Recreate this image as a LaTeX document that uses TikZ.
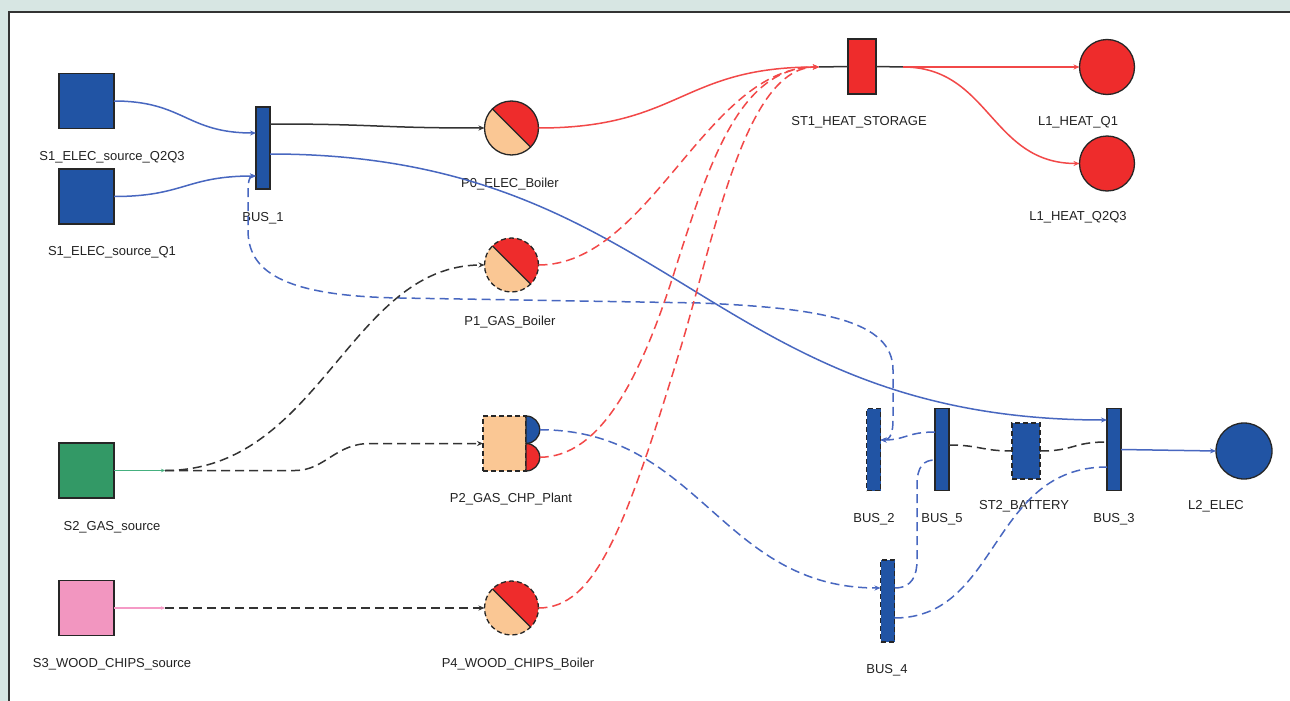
\documentclass[tikz,border=0pt]{standalone}
\usepackage{fontspec}
\setmainfont{Liberation Sans}
\usetikzlibrary{arrows.meta}
\definecolor{bg}{HTML}{D7E6E3}
\definecolor{busblue}{HTML}{2154A4}
\definecolor{lineblue}{HTML}{4867C0}
\definecolor{heatred}{HTML}{EE2C2C}
\definecolor{linered}{HTML}{F24848}
\definecolor{peach}{HTML}{FAC794}
\definecolor{gasgreen}{HTML}{339966}
\definecolor{woodpink}{HTML}{F296C0}
\definecolor{linegreen}{HTML}{45B07F}
\definecolor{linepink}{HTML}{F59AC6}
\definecolor{darkline}{HTML}{333333}
\definecolor{txt}{HTML}{222222}
\begin{document}
\begin{tikzpicture}[x=1pt,y=-1pt,
  font=\fontsize{13}{15}\selectfont,
  shp/.style={draw=black!85, line width=1.3pt, inner sep=0pt, outer sep=0pt},
  dshape/.style={dash pattern=on 5pt off 3pt},
  srcbox/.style={shp, rectangle, minimum width=55pt, minimum height=55pt},
  busbar/.style={shp, rectangle, fill=busblue, minimum width=14pt, minimum height=82pt},
  storebox/.style={shp, rectangle, minimum width=28pt, minimum height=55pt},
  boiler/.style={shp, circle, minimum size=54pt, fill=peach,
    path picture={
      \fill[heatred] (path picture bounding box.north west) -- (path picture bounding box.north east) -- (path picture bounding box.south east) -- cycle;
      \draw[solid, line width=1.3pt, black!85] (path picture bounding box.north west) -- (path picture bounding box.south east);
    }},
  loadc/.style={shp, circle, minimum size=55pt},
  lbl/.style={anchor=base, inner sep=0pt, text=txt},
  conn/.style={line width=1.5pt},
  dsh/.style={dash pattern=on 9pt off 5pt},
  bl/.style={conn, lineblue},
  rd/.style={conn, linered},
  bk/.style={conn, darkline},
  tip/.style={-{Stealth[length=6pt,width=5pt]}},
  tips/.style={{Stealth[length=6pt,width=5pt]}-{Stealth[length=6pt,width=5pt]}},
  smalltip/.style={-{Stealth[length=4pt,width=3.5pt]}}
]
% background
\useasboundingbox (0,0) rectangle (1290,701);
\fill[bg] (0,0) rectangle (1290,701);
\fill[white] (9,12) rectangle (1290,701);
\draw[darkline, line width=1.5pt] (9,701) -- (9,12) -- (1290,12);

% sources
\node[srcbox, fill=busblue] (S1a) at (86.5,101) {};
\node[srcbox, fill=busblue] (S1b) at (86.5,196.5) {};
\node[srcbox, fill=gasgreen] (S2) at (86.5,470.5) {};
\node[srcbox, fill=woodpink] (S3) at (86.5,608) {};

% buses
\node[busbar] (BUS1) at (263,148) {};
\node[busbar, dshape] (BUS2) at (873.5,449.5) {};
\node[busbar] (BUS5) at (942,449.5) {};
\node[busbar] (BUS3) at (1114,449.5) {};
\node[busbar, dshape] (BUS4) at (887.5,601) {};

% converters
\node[boiler] (P0) at (511.5,128) {};
\node[boiler, dshape] (P1) at (511.5,265) {};
\node[boiler, dshape] (P4) at (511.5,608) {};
\node[shp, rectangle, fill=peach, dshape, minimum width=43pt, minimum height=55pt] (P2) at (504.5,443.5) {};
\filldraw[fill=busblue, draw=black!85, line width=1.3pt] (P2.north east) arc[start angle=90, end angle=-90, radius=13.75pt] -- cycle;
\filldraw[fill=heatred, draw=black!85, line width=1.3pt] ([yshift=-27.5pt]P2.north east) arc[start angle=90, end angle=-90, radius=13.75pt] -- cycle;
\coordinate (p2b) at (539.75,429.75);
\coordinate (p2r) at (539.75,457.25);

% storages and loads
\node[storebox, fill=heatred] (ST1) at (862,66.5) {};
\node[storebox, fill=busblue, dshape, minimum height=56pt] (ST2) at (1026,451) {};
\node[loadc, fill=heatred] (L1a) at (1107,67) {};
\node[loadc, fill=heatred] (L1b) at (1107,163.5) {};
\node[loadc, fill=busblue, minimum size=56pt] (L2) at (1244,451) {};

\coordinate (st1in) at (819,67);
\coordinate (st1out) at (903,67);
\coordinate (s2j) at (165,470.5);
\coordinate (s3j) at (165,608);

% labels
\node[lbl] (tS1a) at (112,160) {S1\_ELEC\_source\_Q2Q3};
\node[lbl] (tS1b) at (112,255) {S1\_ELEC\_source\_Q1};
\node[lbl] (tS2) at (112,530) {S2\_GAS\_source};
\node[lbl] (tS3) at (112,667) {S3\_WOOD\_CHIPS\_source};
\node[lbl] (tB1) at (263,221) {BUS\_1};
\node[lbl] (tP0) at (510,187) {P0\_ELEC\_Boiler};
\node[lbl] (tP1) at (510,325) {P1\_GAS\_Boiler};
\node[lbl] (tP2) at (511,502) {P2\_GAS\_CHP\_Plant};
\node[lbl] (tP4) at (518,667) {P4\_WOOD\_CHIPS\_Boiler};
\node[lbl] (tST1) at (859,125) {ST1\_HEAT\_STORAGE};
\node[lbl] (tL1a) at (1078,125) {L1\_HEAT\_Q1};
\node[lbl] (tL1b) at (1078,220) {L1\_HEAT\_Q2Q3};
\node[lbl] (tB2) at (874,522) {BUS\_2};
\node[lbl] (tB5) at (942,522) {BUS\_5};
\node[lbl] (tST2) at (1024,509) {ST2\_BATTERY};
\node[lbl] (tB3) at (1114,522) {BUS\_3};
\node[lbl] (tL2) at (1216,509) {L2\_ELEC};
\node[lbl] (tB4) at (887,673) {BUS\_4};

% electricity connectors
\draw[bl, tip] (S1a.east) .. controls +(70,0) and +(-70,0) .. ([yshift=15pt]BUS1.west);
\draw[bl, tip] (S1b.east) .. controls +(70,0) and +(-70,0) .. ([yshift=-28pt]BUS1.west);
\draw[bk, tip] ([yshift=24pt]BUS1.east) .. controls +(110,0) and +(-110,0) .. (P0.west);
\draw[bl, tip] ([yshift=-6pt]BUS1.east) .. controls +(400,0) and +(-400,0) .. ([yshift=29.5pt]BUS3.west);
\draw[bl, tip] (BUS3.east) -- (L2.west);
\draw[bl, dsh, tips] ([yshift=9.5pt]BUS2.east) .. controls +(10,0) and +(0,12) .. (893,420) -- (893,370)
   .. controls (893,320) and (820,308) .. (700,303) -- (400,298)
   .. controls (280,296) and (248,270) .. (248,230) -- (248,195)
   .. controls (248,182) and (249,176) .. ([yshift=-28pt]BUS1.west);
\draw[bl, dsh, tip] ([yshift=17.5pt]BUS5.west) .. controls +(-28,0) and +(25,0) .. ([yshift=9.5pt]BUS2.east);
\draw[bl, dsh] ([yshift=13pt]BUS4.east) .. controls +(18,0) and +(0,15) .. (917,560) -- (917,485)
   .. controls (917,466) and (924,460) .. ([yshift=-10.5pt]BUS5.west);
\draw[bl, dsh] ([yshift=-17pt]BUS4.east) .. controls +(105,0) and +(-117,0) .. ([yshift=-17.5pt]BUS3.west);
\draw[bl, dsh, tip] (p2b) .. controls +(160,0) and +(-160,0) .. ([yshift=13pt]BUS4.west);
\draw[bk, dsh] ([yshift=4.5pt]BUS5.east) .. controls +(30,0) and +(-30,0) .. (ST2.west);
\draw[bk, dsh] (ST2.east) .. controls +(35,0) and +(-35,0) .. ([yshift=7.5pt]BUS3.west);

% heat connectors
\draw[rd, tip] (P0.east) .. controls +(142,0) and +(-138,0) .. (st1in);
\draw[rd, dsh, tip] (P1.east) .. controls +(112,0) and +(-113,0) .. (st1in);
\draw[rd, dsh, tip] (p2r) .. controls (600,457) and (640,380) .. (675,270) .. controls (710,160) and (740,67) .. (st1in);
\draw[rd, dsh, tip] (P4.east) .. controls (595,608) and (625,530) .. (680,350) .. controls (715,235) and (745,67) .. (st1in);
\draw[conn, darkline] (st1in) -- (ST1.west);
\draw[conn, darkline] (ST1.east) -- (st1out);
\draw[rd, tip] (st1out) -- (L1a.west);
\draw[rd, tip] (st1out) .. controls +(87,0) and +(-89,0) .. (L1b.west);

% fuel connectors
\draw[conn, linegreen, smalltip] (S2.east) -- (s2j);
\draw[conn, linepink, smalltip] (S3.east) -- (s3j);
\draw[bk, dsh, tip] (s2j) .. controls +(155,0) and +(-135,0) .. (P1.west);
\draw[bk, dsh, tip] (s2j) -- (295,470.5) .. controls (325,470.5) and (335,443.5) .. (370,443.5) -- (P2.west);
\draw[bk, dsh, tip] (s3j) -- (P4.west);
\end{tikzpicture}
\end{document}
